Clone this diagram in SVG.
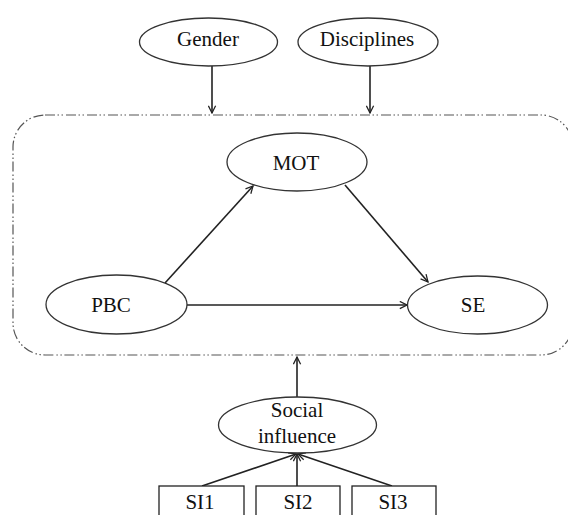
<svg xmlns="http://www.w3.org/2000/svg" width="568" height="515" viewBox="0 0 568 515">
  <style>
    text { font-family: "Liberation Serif", "Times New Roman", serif; font-size: 21px; fill: #111; text-anchor: middle; }
    .node { fill: #fff; stroke: #333; stroke-width: 1.3; }
    .box { fill: #fff; stroke: #222; stroke-width: 1.3; }
    .edge { stroke: #222; stroke-width: 1.6; fill: none; marker-end: url(#arrow); }
    .frame { fill: none; stroke: #555; stroke-width: 1.2; stroke-dasharray: 10 2.5 1.5 2.5 1.5 3; }
  </style>
  <defs>
    <marker id="arrow" viewBox="0 0 10 10" refX="9" refY="5" markerWidth="9" markerHeight="9" markerUnits="userSpaceOnUse" orient="auto">
      <path d="M1,1 L9,5 L1,9" fill="none" stroke="#222" stroke-width="1.4"/>
    </marker>
  </defs>
  <rect width="568" height="515" fill="#fff"/>

  <!-- moderating frame -->
  <rect id="frame" class="frame" x="13" y="115" width="560" height="240" rx="32" ry="32"/>

  <g id="connectors">
    <line class="edge" x1="212" y1="66" x2="212" y2="113"/>
    <line class="edge" x1="370" y1="66" x2="370" y2="113"/>
    <line class="edge" x1="165" y1="283" x2="253" y2="186"/>
    <line class="edge" x1="345" y1="185" x2="428" y2="282"/>
    <line class="edge" x1="187" y1="305" x2="407" y2="305"/>
    <line class="edge" x1="297" y1="397" x2="297" y2="357"/>
    <line class="edge" x1="202" y1="486" x2="296" y2="454"/>
    <line class="edge" x1="297" y1="486" x2="297" y2="454"/>
    <line class="edge" x1="392" y1="486" x2="298" y2="454"/>
  </g>

  <g id="gender">
    <ellipse class="node" cx="208.5" cy="42" rx="69" ry="24"/>
    <text x="208" y="46">Gender</text>
  </g>
  <g id="disciplines">
    <ellipse class="node" cx="368" cy="42" rx="70" ry="24"/>
    <text x="367" y="46">Disciplines</text>
  </g>
  <g id="mot">
    <ellipse class="node" cx="297" cy="162" rx="70" ry="29"/>
    <text x="296" y="170">MOT</text>
  </g>
  <g id="pbc">
    <ellipse class="node" cx="116.5" cy="304.5" rx="70.5" ry="29.5"/>
    <text x="111" y="312">PBC</text>
  </g>
  <g id="se">
    <ellipse class="node" cx="477.5" cy="305" rx="70" ry="29"/>
    <text x="473" y="312">SE</text>
  </g>
  <g id="social-influence">
    <ellipse class="node" cx="297.5" cy="425" rx="79" ry="28"/>
    <text x="297" y="417">Social</text>
    <text x="297" y="443">influence</text>
  </g>
  <g id="si1">
    <rect class="box" x="159" y="486" width="85" height="40"/>
    <text x="200" y="509">SI1</text>
  </g>
  <g id="si2">
    <rect class="box" x="256" y="486" width="84" height="40"/>
    <text x="298" y="509">SI2</text>
  </g>
  <g id="si3">
    <rect class="box" x="352" y="486" width="84" height="40"/>
    <text x="393" y="509">SI3</text>
  </g>
</svg>
